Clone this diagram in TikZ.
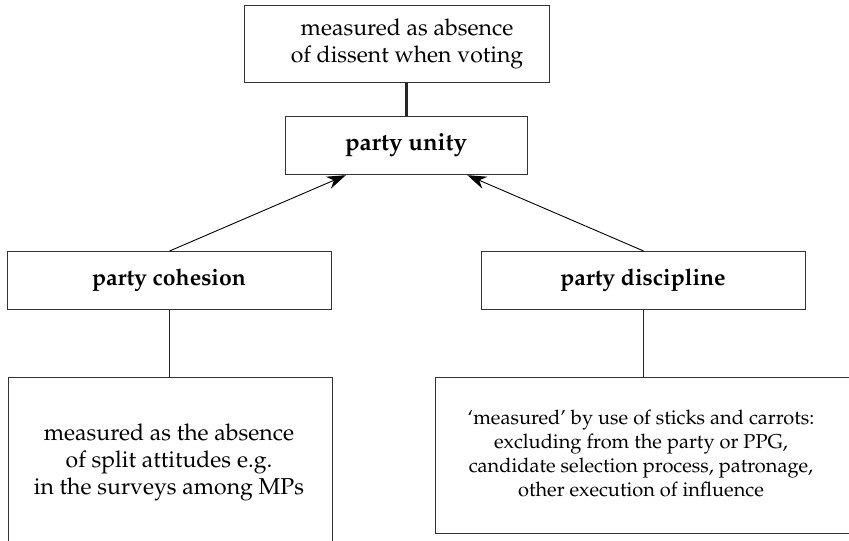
\documentclass[tikz,border=0pt]{standalone}
\usepackage[T1]{fontenc}
\usepackage{mathpazo}
\usetikzlibrary{arrows.meta,calc}
\begin{document}
\begin{tikzpicture}[x=1pt,y=-1pt,
  boxst/.style={draw=black!80,line width=1.2pt,rectangle,inner sep=0pt,anchor=north west},
  txt/.style={font=\fontsize{23}{27}\selectfont,align=center,inner sep=0pt},
  bold/.style={font=\fontsize{23}{27}\selectfont\bfseries,inner sep=0pt},
  conn/.style={draw=black!85,line width=0.9pt},
  arr/.style={draw=black,line width=0.9pt,-{Stealth[length=19pt,width=13pt]}}]
\useasboundingbox (0,0) rectangle (849,541);
\clip (0,0) rectangle (849,541);
% boxes
\node[boxst,minimum width=305pt,minimum height=77pt] (top) at (244,5) {};
\node[txt] (toptxt) at (407,44) {measured as absence\\of dissent when voting};
\node[boxst,minimum width=242pt,minimum height=58pt] (unity) at (285,116) {};
\node[bold,font=\fontsize{24}{27}\selectfont\bfseries] (unitytxt) at (406,145) {party unity};
\node[boxst,minimum width=324pt,minimum height=58pt] (coh) at (7,251) {};
\node[bold] (cohtxt) at (169,280) {party cohesion};
\node[boxst,minimum width=324pt,minimum height=58pt] (disc) at (481,251) {};
\node[bold] (disctxt) at (643,280) {party discipline};
\node[boxst,minimum width=324pt,minimum height=190pt] (cohm) at (8,377) {};
\node[txt] (cohmtxt) at (169,462) {measured as the absence\\of split attitudes e.g.\\in the surveys among MPs};
\node[boxst,minimum width=440pt,minimum height=156pt] (discm) at (435,377) {};
\node[txt,font=\fontsize{20}{24}\selectfont] (discmtxt) at (641,453) {`measured' by use of sticks and carrots:\\excluding from the party or PPG,\\candidate selection process, patronage,\\other execution of influence};
% connectors
\draw[draw=black!85,line width=2.4pt] (unity.north) -- (unity.north |- top.south);
\draw[arr] (coh.north) -- ($(unity.south west)!0.25!(unity.south east)$);
\draw[arr] (disc.north) -- ($(unity.south west)!0.75!(unity.south east)$);
\draw[conn] (coh.south) -- (coh.south |- cohm.north);
\draw[conn] (disc.south) -- (disc.south |- discm.north);
\end{tikzpicture}
\end{document}
